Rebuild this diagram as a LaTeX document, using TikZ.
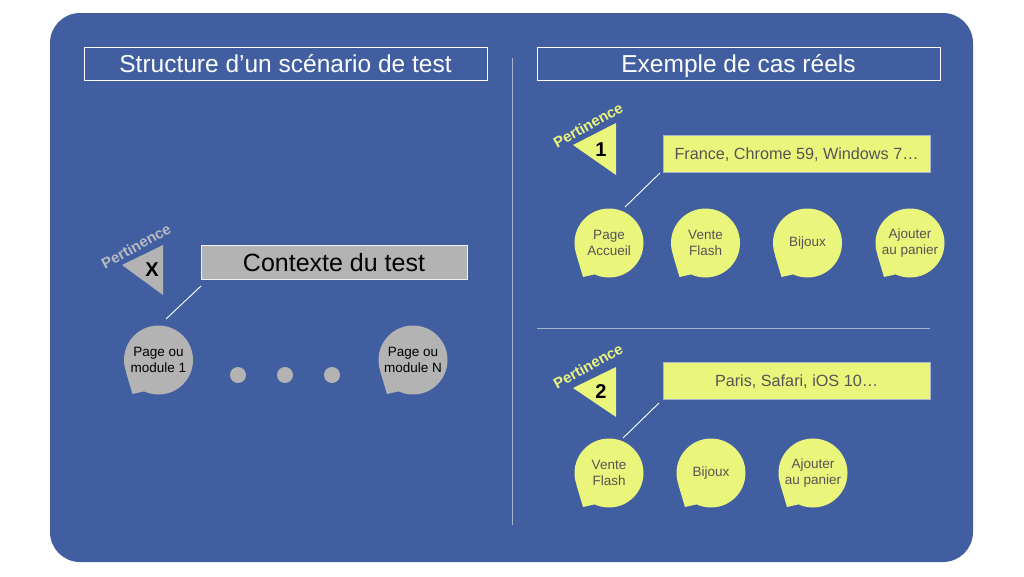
\documentclass[tikz,border=0pt]{standalone}
\usepackage{fontspec}
\setmainfont{Liberation Sans}
\usetikzlibrary{calc}
\definecolor{bg}{HTML}{405EA0}
\definecolor{gfill}{HTML}{B3B3B3}
\definecolor{yfill}{HTML}{EAF57B}
\definecolor{dtext}{HTML}{555555}
\definecolor{ptext}{HTML}{B7BAC2}
\definecolor{divider}{HTML}{A9B4D0}
\newcommand\mybubble[5]{%
  \node[bubble, fill=#4] (#1) at (#2,#3) {#5};
  \fill[#4] (#1.200) -- ($(#1.center)+(-26,34)$) -- (#1.245) -- cycle;}
\begin{document}
\begin{tikzpicture}[x=1pt,y=-1pt,
  titlebox/.style={draw=white, line width=0.9pt, minimum width=403, minimum height=33, inner sep=0, text=white, text height=17.6pt, text depth=0pt, font=\fontsize{24.5}{28}\selectfont},
  bubble/.style={circle, minimum size=69, inner sep=0, align=center, font=\fontsize{13.5}{16}\selectfont},
  conn/.style={white, line width=0.9pt},
  pert/.style={rotate=29, font=\bfseries\fontsize{15}{15}\selectfont},
  num/.style={font=\bfseries\fontsize{20}{20}\selectfont, text=black},
  ybox/.style={fill=yfill, draw=divider, line width=0.5pt, minimum width=267, minimum height=37, inner sep=0, text=dtext, text height=11.7pt, text depth=0pt, font=\fontsize{16.2}{19}\selectfont},
  dot/.style={circle, fill=gfill, minimum size=16, inner sep=0}]
\useasboundingbox (0,0) rectangle (1024,576);
\fill[white] (0,0) rectangle (1024,576);
\fill[bg, rounded corners=30] (50,13) rectangle (973,562);
% titles
\node[titlebox] (t1) at (285.5,63.5) {Structure d’un scénario de test};
\node[titlebox] (t2) at (738.5,63.5) {Exemple de cas réels};
% dividers
\coordinate (v1) at (512,58);
\coordinate (v2) at (512,525);
\draw[divider, line width=0.9pt] (v1) -- (v2);
\coordinate (h1) at (537,328);
\coordinate (h2) at (930,328);
\draw[divider, line width=0.9pt] (h1) -- (h2);
% left part
\node[fill=gfill, draw=white!80!gfill, line width=0.5pt, minimum width=266, minimum height=34, inner sep=0, text height=18pt, text depth=0pt, font=\fontsize{25}{28}\selectfont, text=black] (ctx) at (334,262) {Contexte du test};
\fill[gfill] (122,265) -- (163,245) -- (163,295) -- cycle;
\node[num] (px) at (152,270) {X};
\node[pert, text=ptext] (p0) at (136,246) {Pertinence};
\mybubble{m1}{158.5}{360}{gfill}{\textcolor{black}{Page ou}\\\textcolor{black}{module 1}}
\mybubble{mn}{413}{360}{gfill}{\textcolor{black}{Page ou}\\\textcolor{black}{module N}}
\node[dot] (d1) at (238,375) {};
\node[dot] (d2) at (285,375) {};
\node[dot] (d3) at (332,375) {};
\coordinate (l1a) at (166,319);
\coordinate (l1b) at (201,286);
\draw[conn] (l1a) -- (l1b);
% right part, case 1
\fill[yfill] (573,145) -- (616,123) -- (616,175) -- cycle;
\node[num] (n1) at (601,150) {1};
\node[pert, text=yfill] (p1) at (588,125) {Pertinence};
\node[ybox] (b1) at (796.5,153.5) {France, Chrome 59, Windows 7…};
\mybubble{a1}{609}{243}{yfill}{\textcolor{dtext}{Page}\\\textcolor{dtext}{Accueil}}
\mybubble{a2}{705.5}{243}{yfill}{\textcolor{dtext}{Vente}\\\textcolor{dtext}{Flash}}
\mybubble{a3}{807.5}{243}{yfill}{\textcolor{dtext}{Bijoux}}
\mybubble{a4}{910}{243}{yfill}{\textcolor{dtext}{Ajouter}\\\textcolor{dtext}{au panier}}
\coordinate (l2a) at (625,207);
\coordinate (l2b) at (660,173);
\draw[conn] (l2a) -- (l2b);
% right part, case 2
\fill[yfill] (573,388) -- (616,367) -- (616,417) -- cycle;
\node[num] (n2) at (601,392) {2};
\node[pert, text=yfill] (p2) at (588,366) {Pertinence};
\node[ybox] (b2) at (796.5,381) {Paris, Safari, iOS 10…};
\mybubble{c1}{609}{473}{yfill}{\textcolor{dtext}{Vente}\\\textcolor{dtext}{Flash}}
\mybubble{c2}{711}{473}{yfill}{\textcolor{dtext}{Bijoux}}
\mybubble{c3}{813}{473}{yfill}{\textcolor{dtext}{Ajouter}\\\textcolor{dtext}{au panier}}
\coordinate (l3a) at (623,438);
\coordinate (l3b) at (659,403);
\draw[conn] (l3a) -- (l3b);
\end{tikzpicture}
\end{document}
